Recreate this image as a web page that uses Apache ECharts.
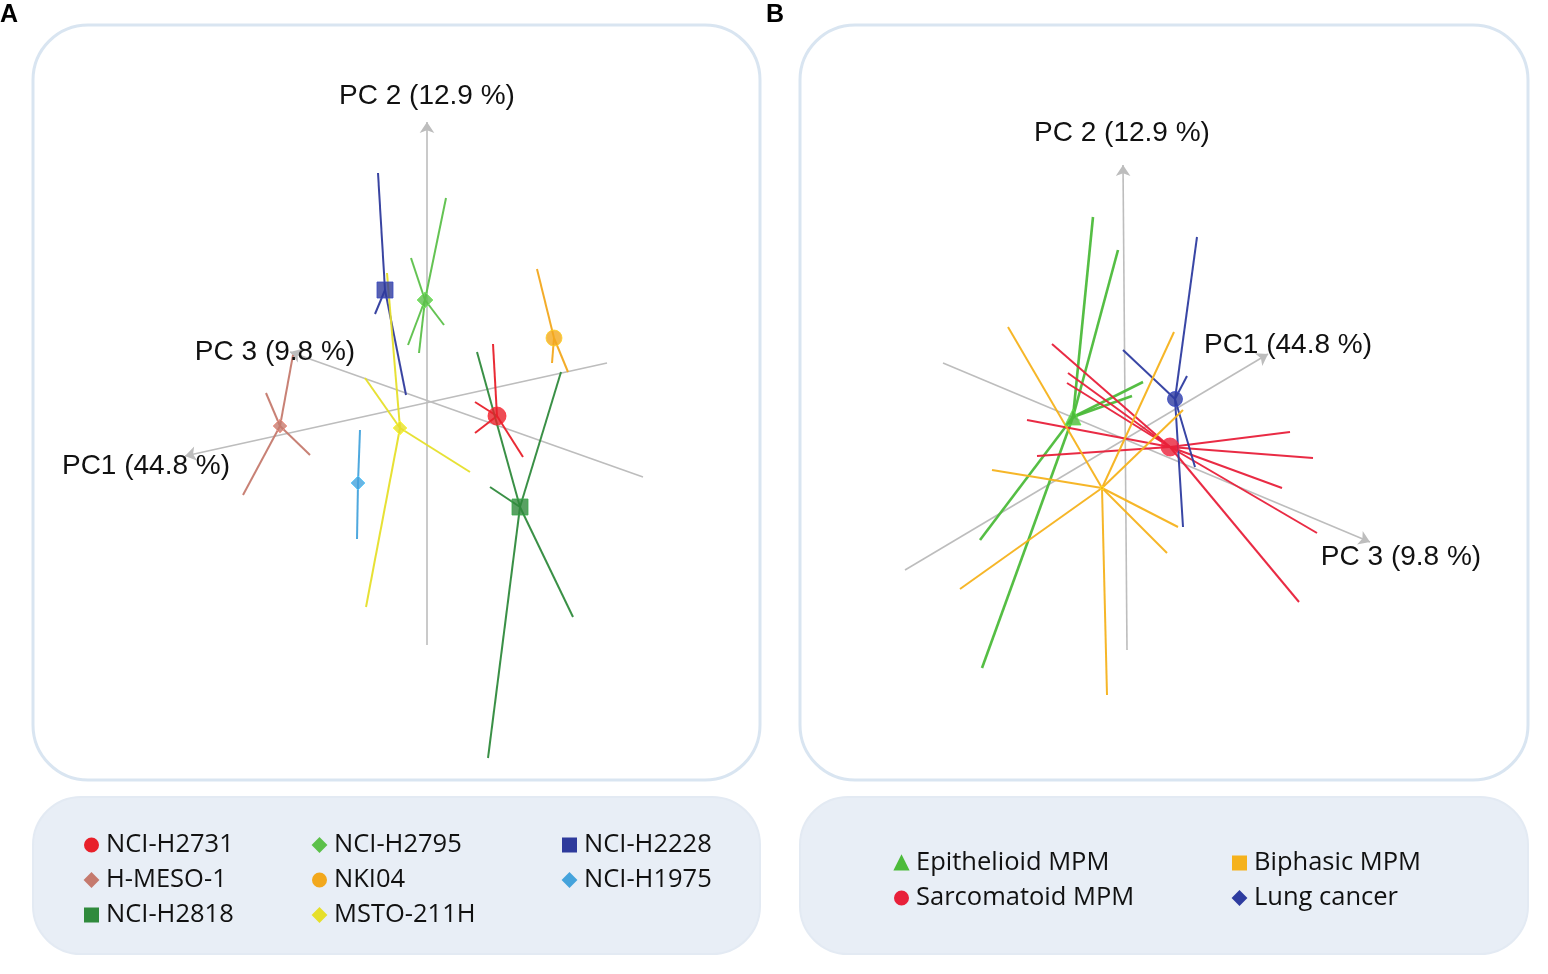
<!DOCTYPE html>
<html>
<head>
<meta charset="utf-8">
<script src="https://cdn.jsdelivr.net/npm/echarts@6/dist/echarts.min.js"></script>
<style>
html,body{margin:0;padding:0;background:#fff;}
#main{width:1548px;height:974px;}
</style>
</head>
<body>
<div id="main"></div>
<script>
// ---------------- DATA (projected PCA coordinates, origin = axes crossing, y up) ----------------
// Panel A: cell lines
const groupsA = ['NCI-H2731','NCI-H2795','NCI-H2228','H-MESO-1','NKI04','NCI-H1975','NCI-H2818','MSTO-211H'];
const centroidsA = [[70,-12],[-2,104],[-42,114],[-147,-22],[127,66],[-69,-79],[93,-103],[-27,-24]];
const raysA = [
  [[66,60],[96,-53],[48,-29],[48,2]],
  [[19,206],[-19,59],[-8,51],[-16,146],[17,79]],
  [[-49,231],[-21,9],[-52,90]],
  [[-134,49],[-184,-91],[-117,-51],[-161,11]],
  [[110,135],[141,32],[125,41]],
  [[-67,-26],[-70,-135]],
  [[50,52],[134,32],[61,-354],[146,-213],[63,-83]],
  [[-62,26],[43,-68],[-40,131],[-61,-203]]
];
// Panel A axes: [start, end(arrow)], label position
const axisNamesA = ['PC 2 (12.9 %)','PC1 (44.8 %)','PC 3 (9.8 %)'];
const axisSegA = [[[0,-241],[0,282]], [[180,41],[-242,-52]], [[216,-73],[-137,52]]];
const axisLabelPosA = [[0,308],[-281,-62],[-152,52]];

// Panel B: histotypes
const groupsB = ['Epithelioid MPM','Sarcomatoid MPM','Lung cancer','Biphasic MPM'];
const centroidsB = [[-52,22],[45,-8],[50,40],[-23,-49]];
const raysB = [
  [[-32,222],[-7,189],[18,57],[7,43],[-145,-101],[-143,-229]],
  [[-73,95],[-57,66],[-58,56],[-98,19],[-88,-17],[165,7],[188,-19],[157,-49],[192,-94],[174,-163]],
  [[72,202],[-2,89],[62,63],[58,-88],[70,-28]],
  [[-117,112],[49,107],[-133,-31],[-165,-150],[-18,-256],[53,-88],[42,-114],[58,29]]
];
const axisNamesB = ['PC 2 (12.9 %)','PC1 (44.8 %)','PC 3 (9.8 %)'];
const axisSegB = [[[2,-211],[-2,274]], [[-220,-131],[143,85]], [[-182,76],[245,-103]]];
const axisLabelPosB = [[-3,306],[163,94],[276,-118]];

// ---------------- STYLE ----------------
const colorsA = ['#e8202a','#5cc04a','#2e3a9c','#c57a6e','#f2a81d','#45a3dc','#2f8a3c','#e6df2a'];
const symbolsA = ['circle','diamond','rect','diamond','circle','diamond','rect','diamond'];
const sizesA = [18,16,16,14,16,14,16,14];
const widthsA = [2,2,2,2,2,2,2,2];
const colorsB = ['#4cbb3a','#e8203a','#2e3ca0','#f5b21c'];
const symbolsB = ['triangle','circle','circle','rect'];
const sizesB = [16,18,15,3];
const widthsB = [2.6,2,2,2];

const chart = echarts.init(document.getElementById('main'));

function hiddenAxis(gridIndex, min, max){
  return {type:'value', gridIndex, min, max, show:false, splitLine:{show:false}};
}

const series = [];
function addPanel(gi, names, centroids, rays, colors, symbols, sizes, widths, axNames, axSeg, axLab){
  // axes
  series.push({
    type:'lines', coordinateSystem:'cartesian2d', xAxisIndex:gi, yAxisIndex:gi, z:1, silent:true,
    symbol:['none','arrow'], symbolSize:[0,11],
    lineStyle:{color:'#bdbdbd', width:1.6, opacity:1},
    data: axSeg.map(s=>({coords:s}))
  });
  series.push({
    type:'scatter', xAxisIndex:gi, yAxisIndex:gi, z:6, silent:true, symbolSize:1, itemStyle:{opacity:0},
    label:{show:true, position:'inside', formatter:p=>p.name, fontFamily:'Liberation Sans, Arial, sans-serif', fontSize:28, color:'#111111', textBorderWidth:0, opacity:1},
    data: axNames.map((n,i)=>({name:n, value:axLab[i]}))
  });
  names.forEach((n,i)=>{
    series.push({
      type:'lines', name:n, coordinateSystem:'cartesian2d', xAxisIndex:gi, yAxisIndex:gi, z:3, silent:true,
      lineStyle:{color:colors[i], width:widths[i], opacity:0.95},
      data: rays[i].map(e=>({coords:[centroids[i], e]}))
    });
    series.push({
      type:'scatter', name:n, xAxisIndex:gi, yAxisIndex:gi, z:5,
      symbol:symbols[i], symbolSize:sizes[i],
      itemStyle:{color:colors[i], borderColor:echarts.color.lift(colors[i],-0.25), borderWidth:1},
      data:[centroids[i]]
    });
  });
}
addPanel(0, groupsA, centroidsA, raysA, colorsA, symbolsA, sizesA, widthsA, axisNamesA, axisSegA, axisLabelPosA);
addPanel(1, groupsB, centroidsB, raysB, colorsB, symbolsB, sizesB, widthsB, axisNamesB, axisSegB, axisLabelPosB);

const legendText = {fontFamily:'Open Sans, Noto Sans, sans-serif', fontSize:25.5, color:'#111111', lineHeight:30, padding:[0,0,0,3]};
function legendCol(left, top, items, icons){
  return {
    left, top, orient:'vertical', itemWidth:13, itemHeight:13, itemGap:5, selectedMode:false,
    textStyle:legendText,
    data: items.map((n,k)=>({name:n, icon:icons[k]}))
  };
}

const option = {
  animation:false,
  backgroundColor:'#ffffff',
  graphic:[
    {type:'rect', z:-10, shape:{x:33,y:25,width:727,height:755,r:55}, style:{fill:'#ffffff', stroke:'#d9e5f1', lineWidth:3}},
    {type:'rect', z:-10, shape:{x:33,y:797,width:727,height:157,r:48}, style:{fill:'#e8eef6', stroke:'#e3eaf3', lineWidth:2}},
    {type:'rect', z:-10, shape:{x:800,y:25,width:728,height:755,r:55}, style:{fill:'#ffffff', stroke:'#d9e5f1', lineWidth:3}},
    {type:'rect', z:-10, shape:{x:800,y:797,width:728,height:157,r:48}, style:{fill:'#e8eef6', stroke:'#e3eaf3', lineWidth:2}},
    {type:'text', z:10, left:0, top:3, style:{text:'A', font:'bold 25px Liberation Sans, Arial, sans-serif', fill:'#000'}},
    {type:'text', z:10, left:766, top:3, style:{text:'B', font:'bold 25px Liberation Sans, Arial, sans-serif', fill:'#000'}}
  ],
  grid:[
    {left:33, top:25, width:727, height:755},
    {left:800, top:25, width:728, height:755}
  ],
  xAxis:[hiddenAxis(0,-394,333), hiddenAxis(1,-325,403)],
  yAxis:[hiddenAxis(0,-376,379), hiddenAxis(1,-341,414)],
  legend:[
    legendCol(79, 825, ['NCI-H2731','H-MESO-1','NCI-H2818'], ['circle','diamond','rect']),
    legendCol(307, 825, ['NCI-H2795','NKI04','MSTO-211H'], ['diamond','circle','diamond']),
    legendCol(557, 825, ['NCI-H2228','NCI-H1975'], ['rect','diamond']),
    legendCol(889, 843, ['Epithelioid MPM','Sarcomatoid MPM'], ['triangle','circle']),
    legendCol(1227, 843, ['Biphasic MPM','Lung cancer'], ['rect','diamond'])
  ],
  series
};
chart.setOption(option);
</script>
</body>
</html>
